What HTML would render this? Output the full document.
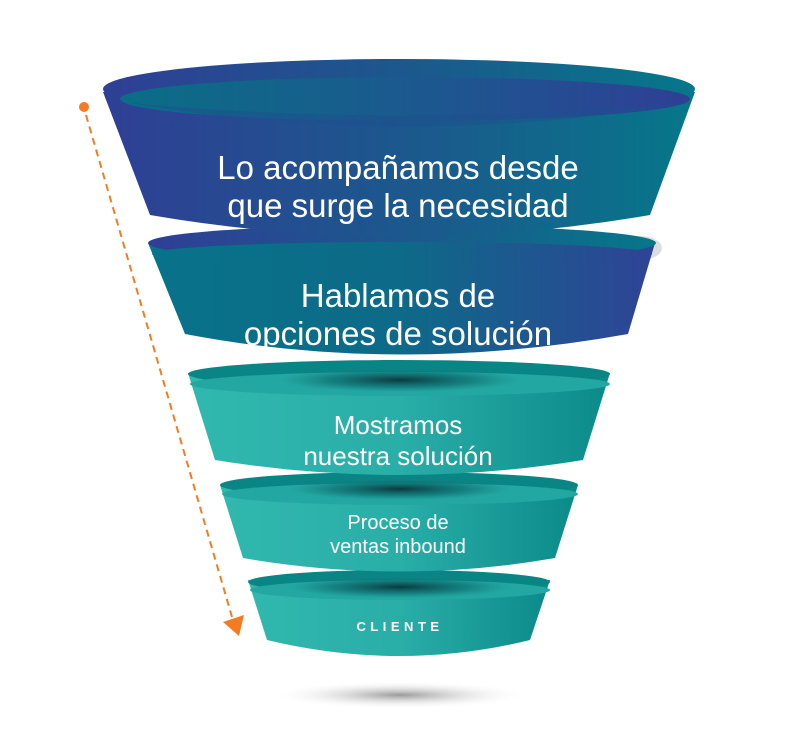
<!DOCTYPE html>
<html><head><meta charset="utf-8"><style>
html,body{margin:0;padding:0;background:#fff;width:800px;height:743px;overflow:hidden}
svg{display:block}
text{font-family:"Liberation Sans",sans-serif;fill:#fff;text-anchor:middle}
</style></head><body>
<svg width="800" height="743" viewBox="0 0 800 743" xmlns="http://www.w3.org/2000/svg">
<defs>
<linearGradient id="g1" x1="0" x2="1" y1="0" y2="0"><stop offset="0" stop-color="#2f3f95"/><stop offset="0.55" stop-color="#1a5a8c"/><stop offset="1" stop-color="#06778a"/></linearGradient>
<linearGradient id="g1i" x1="0" x2="1"><stop offset="0" stop-color="#0a6e86"/><stop offset="0.6" stop-color="#1e5590"/><stop offset="1" stop-color="#2f3f95"/></linearGradient>
<linearGradient id="g2" x1="0" x2="1"><stop offset="0" stop-color="#08738a"/><stop offset="0.5" stop-color="#0d6a88"/><stop offset="1" stop-color="#2f4396"/></linearGradient>
<linearGradient id="g3" x1="0" x2="1"><stop offset="0" stop-color="#30b8ae"/><stop offset="0.5" stop-color="#2aaea8"/><stop offset="1" stop-color="#0b8a8a"/></linearGradient>
<radialGradient id="sh" cx="0.5" cy="0.5" r="0.5"><stop offset="0" stop-color="#0a3a3e"/><stop offset="0.6" stop-color="#0f6f72" stop-opacity="0.7"/><stop offset="1" stop-color="#14807f" stop-opacity="0"/></radialGradient>
<radialGradient id="gs" cx="0.5" cy="0.5" r="0.5"><stop offset="0" stop-color="#999"/><stop offset="1" stop-color="#fff" stop-opacity="0"/></radialGradient>
</defs>
<ellipse cx="400" cy="695" rx="130" ry="14" fill="url(#gs)"/>
<path d="M248,580 L267,640 Q400,672 530,640 L550,580 Z" fill="url(#g3)"/>
<ellipse cx="399" cy="582" rx="151" ry="12" fill="#0a8585"/>
<ellipse cx="400" cy="590" rx="150" ry="10" fill="#23a7a2"/>
<ellipse cx="400" cy="587" rx="110" ry="11" fill="url(#sh)"/>
<path d="M220,485 L243,558 Q400,585 555,558 L578,485 Z" fill="url(#g3)"/>
<ellipse cx="399" cy="485" rx="179" ry="13" fill="#0a8585"/>
<ellipse cx="400" cy="494" rx="178" ry="11" fill="#23a7a2"/>
<ellipse cx="400" cy="489" rx="110" ry="11" fill="url(#sh)"/>
<path d="M188,373 L215,460 Q400,490 583,460 L610,373 Z" fill="url(#g3)"/>
<ellipse cx="399" cy="374" rx="211" ry="14" fill="#0a8585"/>
<ellipse cx="400" cy="384" rx="210" ry="12" fill="#23a7a2"/>
<ellipse cx="400" cy="380" rx="120" ry="12" fill="url(#sh)"/>
<ellipse cx="640" cy="248" rx="22" ry="12" fill="#ddd"/>
<path d="M148,243 L185,334 Q400,375 628,334 L655,243 Z" fill="url(#g2)"/>
<ellipse cx="402" cy="243" rx="254" ry="18" fill="url(#g1)"/>
<ellipse cx="402" cy="254" rx="250" ry="12" fill="url(#g2)"/>
<path d="M103,92 L150,215 Q400,258 650,215 L695,92 Z" fill="url(#g1)"/>
<ellipse cx="399" cy="89" rx="296" ry="30" fill="url(#g1)"/>
<ellipse cx="405" cy="99" rx="285" ry="22" fill="url(#g1i)"/>
<path d="M130,103 Q400,150 690,103 Q400,128 130,103Z" fill="#1e4f8d" opacity="0.5"/>
<circle cx="84" cy="107" r="5" fill="#f47b20"/>
<line x1="86" y1="115" x2="232" y2="617" stroke="#f47b20" stroke-width="2" stroke-dasharray="7,5"/>
<polygon points="223,622 244,615 239,636" fill="#f47b20"/>
<text x="398" y="179" font-size="33">Lo acompañamos desde</text>
<text x="398" y="217" font-size="33">que surge la necesidad</text>
<text x="398" y="307" font-size="33">Hablamos de</text>
<text x="398" y="345" font-size="33">opciones de solución</text>
<text x="398" y="434" font-size="26">Mostramos</text>
<text x="398" y="465" font-size="26">nuestra solución</text>
<text x="398" y="529" font-size="20">Proceso de</text>
<text x="398" y="553" font-size="20">ventas inbound</text>
<text x="400" y="631" font-size="13" font-weight="bold" letter-spacing="4.5">CLIENTE</text>
</svg>
</body></html>
